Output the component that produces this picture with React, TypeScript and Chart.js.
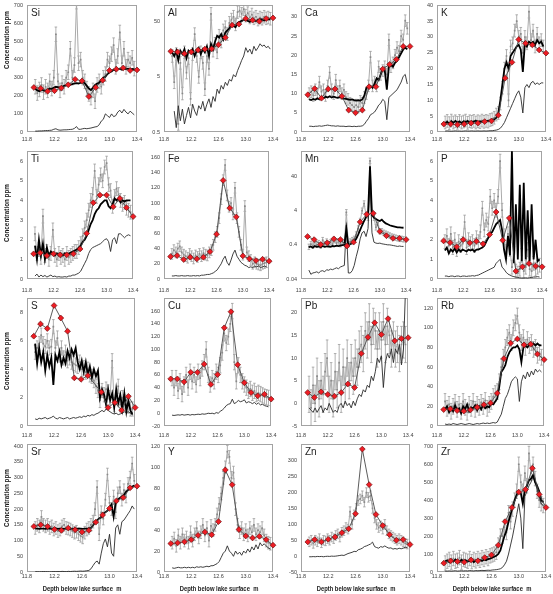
import React, { useEffect, useRef } from "react";
import { Chart, registerables } from "chart.js";

Chart.register(...registerables);

// ---------- shared depth axis ----------
const depth = [11.92, 11.95, 11.98, 12.01, 12.04, 12.07, 12.10, 12.13, 12.16, 12.19,
  12.22, 12.25, 12.28, 12.31, 12.34, 12.37, 12.40, 12.43, 12.46, 12.49,
  12.52, 12.55, 12.58, 12.61, 12.64, 12.67, 12.70, 12.73, 12.76, 12.79,
  12.82, 12.85, 12.88, 12.91, 12.94, 12.97, 13.00, 13.03, 13.06, 13.09,
  13.12, 13.15, 13.18, 13.21, 13.24, 13.27, 13.30, 13.33, 13.36];
const redDepth = [11.9, 12.0, 12.1, 12.2, 12.3, 12.4, 12.5, 12.6, 12.7, 12.8, 12.9, 13.0, 13.1, 13.2, 13.3, 13.4];
const xTicks = [11.8, 12.2, 12.6, 13.0, 13.4];

// ---------- Si ----------
const siGray = [250, 215, 235, 260, 220, 250, 230, 280, 240, 300, 540, 280, 230, 270, 250, 300, 330, 460, 300, 370, 720, 380, 400, 300, 280, 240, 210, 190, 230, 170, 260, 280, 250, 300, 320, 400, 380, 430, 480, 360, 420, 550, 380, 460, 360, 400, 380, 410, 350];
const siBlack = [240, 230, 225, 235, 230, 228, 232, 240, 238, 245, 250, 248, 245, 250, 255, 258, 262, 262, 265, 268, 270, 268, 272, 275, 270, 255, 240, 232, 245, 260, 268, 272, 285, 300, 305, 320, 330, 335, 345, 340, 348, 350, 345, 352, 348, 350, 345, 348, 346];
const siThin = [5, 5, 6, 6, 7, 8, 8, 9, 10, 15, 18, 12, 10, 11, 12, 12, 13, 14, 15, 20, 30, 15, 15, 18, 20, 18, 20, 22, 25, 28, 30, 40, 60, 70, 100, 90, 80, 100, 85, 90, 110, 120, 105, 125, 110, 100, 115, 105, 95];
const siRed = [246, 241, 225, 228, 243, 261, 291, 282, 196, 246, 286, 340, 347, 354, 340, 343];
const siTicks = [0, 100, 200, 300, 400, 500, 600, 700];

// ---------- Al ----------
const alGray = [12, 4, 13, 0.7, 9, 2.5, 14, 6, 11, 2, 13, 30, 12, 5, 14, 9, 3, 12, 7, 70, 15, 20, 14, 28, 22, 35, 40, 30, 48, 55, 62, 45, 75, 80, 70, 85, 65, 72, 60, 68, 58, 62, 55, 60, 57, 62, 58, 60, 57];
const alBlack = [14, 12, 15, 10, 15, 13, 16, 11, 15, 14, 16, 12, 15, 17, 13, 16, 14, 18, 12, 20, 16, 22, 28, 26, 30, 24, 32, 35, 38, 45, 42, 40, 48, 50, 52, 54, 55, 52, 50, 55, 53, 52, 54, 56, 55, 53, 55, 56, 55];
const alThin = [null, 1.2, 0.6, 1.5, 0.8, 1.3, 0.7, 1.0, 1.4, 0.9, 1.6, 1.2, 1.0, 1.5, 1.3, 1.8, 1.2, 1.6, 2.0, 1.4, 2.2, 1.8, 3.0, 2.5, 3.5, 3.0, 4.0, 3.5, 4.5, 4.2, 5.5, 5.0, 6.5, 8, 10, 12, 17, 14, 16, 13, 18, 15, 17, 20, 18, 19, 17, 18, 16];
const alRed = [14.6, 14.2, 13.2, 14.2, 15.4, 16.0, 16.2, 19.2, 25.9, 43.6, 45.4, 57.4, 53.6, 51.3, 57.4, 59];
const alTicks = [0.5, 5, 50];

// ---------- Ca ----------
const caGray = [10, 10.5, 9.5, 11, 10, 13, 10.5, 11, 9.5, 12, 15.5, 11, 10, 13.5, 10.5, 12, 10, 11, 9, 8.5, 7.5, 7, 6.5, 7, 6.5, 8, 7.5, 9, 10, 12, 19.5, 12, 13, 12, 17, 15, 16, 17, 15, 24, 17, 18, 20, 22, 21, 25, 24, 29, 27];
const caBlack = [8.5, 8.3, 8.6, 8.4, 8.8, 8.5, 9, 8.8, 9.2, 9, 9.3, 9, 9.2, 9, 8.9, 9.1, 8.8, 8.7, 8.6, 8.5, 8.4, 8.5, 8.3, 8.2, 8.3, 8.2, 8.5, 9.5, 11.5, 11.8, 12, 11.5, 12.5, 14, 13.5, 15, 16.5, 16, 11, 17, 17.5, 17, 18, 18.5, 19.5, 20.5, 21.5, 22, 21.5];
const caThin = [1.5, 1.5, 1.4, 1.5, 1.5, 1.6, 1.5, 1.6, 1.7, 1.8, 1.7, 1.6, 1.6, 1.5, 1.6, 1.5, 1.5, 1.5, 1.4, 1.5, 1.5, 1.4, 1.5, 1.4, 1.5, 1.5, 1.6, 2.0, 2.8, 3.5, 4.5, 4.8, 5.2, 6, 7, 7.5, 8.5, 8, 3.2, 9, 9.5, 10, 10.5, 11, 12, 13, 14.5, 15, 12.5];
const caRed = [9.7, 11.3, 8.8, 11.2, 11.2, 9.3, 5.7, 5.0, 5.7, 11.8, 11.8, 16.4, 17.6, 18.9, 22.3, 22.3];
const caTicks = [0, 5, 10, 15, 20, 25, 30];

// ---------- K ----------
const kGray = [3, 3.5, 2.8, 3.6, 3, 3.4, 2.9, 3.5, 3, 3.3, 3.6, 2.9, 3.4, 3.2, 3.5, 3, 3.4, 3.1, 3.6, 3.2, 3.5, 3.3, 3.8, 4, 4.5, 5.5, 6, 9, 14, 20, 24, 10, 27, 28, 32, 35, 30, 31, 25, 30, 28, 38, 29, 32, 27, 31, 28, 29, 27];
const kBlack = [2.8, 3.2, 2.6, 3.4, 2.9, 3.5, 3, 3.3, 2.8, 3.4, 3.1, 3.5, 2.9, 3.3, 3.2, 3.6, 3, 3.4, 3.2, 3.5, 3.3, 3.6, 3.5, 3.8, 4, 4.5, 6, 10, 15, 20, 22, 20, 24, 25, 26, 27, 27.5, 26, 19, 28, 27, 28.5, 28, 28.5, 27.5, 29, 28, 28.5, 27];
const kThin = [0.3, 0.35, 0.3, 0.25, 0.3, 0.35, 0.3, 0.3, 0.25, 0.3, 0.35, 0.3, 0.3, 0.35, 0.3, 0.3, 0.35, 0.3, 0.3, 0.35, 0.3, 0.35, 0.4, 0.4, 0.5, 0.6, 0.8, 1.2, 2, 3, 4.5, 6, 7.5, 9, 10.5, 12, 13, 11, 6, 14, 15, 14, 15.5, 16, 15, 15.5, 15, 15.5, 15.5];
const kRed = [2.5, 2.5, 2.3, 2.5, 2.8, 2.8, 3.3, 3.5, 5.3, 17.0, 22.0, 29.2, 28.0, 27.5, 25.9, 24.9];
const kTicks = [0, 5, 10, 15, 20, 25, 30, 35, 40];

// ---------- Ti ----------
const tiGray = [2.3, 1.3, 1.5, 1.1, 3.2, 1.2, 1.4, 1.0, 1.3, 2.5, 1.2, 1.0, 1.3, 1.1, 1.2, 1.0, 1.3, 1.1, 1.2, 1.3, 1.4, 1.4, 1.6, 1.8, 2.2, 2.6, 3.0, 3.5, 4.0, 4.3, 5.5, 4.2, 4.8, 5.3, 5.0, 5.7, 5.9, 4.8, 4.5, 3.7, 4.2, 4.6, 4.3, 4.0, 3.8, 3.9, 3.6, 3.5, 3.4];
const tiBlack = [1.7, 1.0, 2.0, 1.2, 1.8, 1.0, 1.6, 1.2, 1.4, 1.3, 1.2, 1.3, 1.2, 1.3, 1.2, 1.3, 1.25, 1.3, 1.35, 1.4, 1.45, 1.5, 1.6, 1.7, 1.9, 2.0, 2.2, 2.5, 2.8, 3.0, 3.3, 3.5, 3.6, 3.8, 3.9, 4.0, 4.0, 3.7, 3.6, 3.8, 4.1, 4.0, 4.1, 3.9, 4.0, 3.95, 4.0, 4.0, 4.0];
const tiThin = [0.15, 0.25, 0.1, 0.2, 0.12, 0.18, 0.1, 0.15, 0.2, 0.12, 0.15, 0.1, 0.12, 0.1, 0.1, 0.12, 0.1, 0.15, 0.15, 0.2, 0.2, 0.25, 0.3, 0.4, 0.6, 0.8, 1.0, 1.3, 1.5, 1.6, 1.65, 1.7, 1.75, 1.8, 1.9, 2.0, 2.05, 1.9, 1.4, 2.0, 2.1, 1.8, 2.3, 2.3, 2.2, 2.1, 2.2, 2.25, 2.2];
const tiRed = [1.28, 1.33, 1.19, 1.28, 1.23, 1.23, 1.28, 1.53, 2.32, 3.88, 4.27, 4.27, 3.68, 4.1, 3.63, 3.18];
const tiTicks = [0, 1, 2, 3, 4, 5, 6];

// ---------- Fe ----------
const feGray = [33, 38, 35, 40, 43, 35, 32, 30, 28, 33, 30, 27, 31, 29, 33, 30, 34, 32, 31, 35, 38, 45, 55, 62, 80, 105, 130, 150, 110, 95, 100, 85, 120, 80, 62, 45, 32, 96, 35, 30, 25, 20, 22, 20, 19, 18, 20, 21, 22];
const feThin = [4, 4, 4.5, 4, 4, 4.5, 4, 4, 4.5, 4, 4, 4.5, 4, 4.5, 4, 5, 5, 5.5, 6, 6, 7, 8, 10, 12, 16, 20, 26, 30, 22, 18, 25, 33, 38, 30, 26, 22, 20, 18, 17, 15, 16, 15, 17, 16, 17, 15, 16, 17, 16];
const feRed = [29.5, 30.8, 25.6, 28.6, 26.5, 28.6, 36, 59, 129.7, 93.3, 81.6, 30.4, 26.5, 24.3, 26, 23.4];
const feTicks = [0, 20, 40, 60, 80, 100, 120, 140, 160];

// ---------- Mn ----------
const mnGray = [0.35, 0.42, 0.38, 0.5, 0.4, 0.45, 0.38, 0.55, 0.42, 0.5, 0.4, 0.48, 0.42, 0.55, 0.45, 0.5, 0.42, 0.48, 0.45, 3.6, 0.42, 0.5, 0.55, 0.6, 0.8, 1.2, 2.0, 4.0, 6.5, 3.0, 2.5, 116, 3.5, 2.5, 1.3, 1.8, 1.0, 1.0, 0.9, 0.85, 0.8, 0.75, 0.7, 0.68, 0.65, 0.62, 0.6, 0.6, 0.58];
const mnBlack = [0.34, 0.36, 0.33, 0.37, 0.35, 0.36, 0.34, 0.37, 0.35, 0.36, 0.36, 0.35, 0.37, 0.36, 0.38, 0.37, 0.38, 0.39, 0.4, 1.2, 0.38, 0.42, 0.45, 0.5, 0.6, 0.8, 1.1, 1.5, 2.0, 2.6, 3.2, 80, 3.0, 2.5, 2.3, 2.1, 2.0, 2.2, 1.9, 1.7, 1.6, 1.5, 1.45, 1.4, 1.35, 1.3, 1.3, 1.28, 1.27];
const mnThin = [0.073, 0.055, 0.06, 0.062, 0.065, 0.06, 0.068, 0.07, 0.065, 0.075, 0.072, 0.078, 0.075, 0.08, 0.085, 0.08, 0.09, 0.095, 0.1, 1.5, 0.06, 0.06, 0.07, 0.1, 0.18, 0.3, 0.6, 0.9, 1.0, 0.7, 1.2, 30, 0.9, 0.48, 0.45, 0.44, 0.45, 0.43, 0.42, 0.41, 0.4, 0.4, 0.39, 0.38, 0.37, 0.36, 0.37, 0.36, 0.36];
const mnRed = [0.70, 0.57, 0.41, 0.46, 0.60, 0.57, 0.37, 0.48, 1.88, 3.13, 3.35, 0.99, 0.74, 0.62, 0.62, 0.57];
const mnTicks = [0.04, 0.4, 4, 40];

// ---------- P ----------
const pGray = [1.9, 2.2, 1.7, 2.3, 1.6, 2.0, 1.5, 1.9, 1.7, 1.8, 2.9, 1.6, 2.0, 1.8, 1.9, 1.7, 2.1, 1.9, 2.4, 3.6, 2.5, 3.0, 2.8, 4.2, 3.6, 4.0, 3.5, 4.2, 6.0, 3.5, 2.2, 1.4, 2.3, 1.5, 0.6, 1.3, 0.4, 0.3, 0.5, 1.2, 0.4, 0.6, 1.5, 0.5, 0.4, 0.8, 0.5, 0.6, 0.7];
const pBlack = [1.45, 1.6, 1.3, 1.5, 1.4, 1.55, 1.35, 1.5, 1.4, 1.5, 1.45, 1.4, 1.5, 1.45, 1.5, 1.4, 1.5, 1.5, 1.55, 1.6, 1.7, 1.9, 2.1, 2.3, 2.4, 2.6, 2.8, 2.9, 3.0, 2.5, 1.5, 1.0, 2.2, 1.2, 6.6, 0.8, 3.8, 1.0, 4.8, 0.9, 4.9, 1.0, 3.5, 0.9, 3.8, 1.0, 2.0, 0.9, 1.0];
const pThin = [0.15, 0.15, 0.12, 0.15, 0.15, 0.12, 0.15, 0.15, 0.12, 0.15, 0.15, 0.13, 0.15, 0.15, 0.17, 0.15, 0.18, 0.2, 0.25, 0.3, 0.35, 0.4, 0.45, 0.5, 0.55, 0.6, 0.8, 0.9, 1.0, 0.6, 0.5, 0.35, 0.25, 0.2, 0.15, 0.12, 0.1, 0.08, 0.06, 0.05, 0.05, 0.06, 0.05, 0.07, 0.08, 0.1, 0.1, 0.12, 0.1];
const pRed = [1.94, 1.85, 1.64, 2.0, 1.84, 1.92, 1.79, 2.26, 3.41, 1.97, 3.1, 0.40, 0.62, 0.79, 0.66, 0.62];
const pTicks = [0, 1, 2, 3, 4, 5, 6];

// ---------- S ----------
const sGray = [5.2, 5.5, 5.8, 6.4, 5.8, 5.6, 6.0, 5.5, 5.6, 7.0, 5.5, 6.2, 5.0, 5.5, 4.8, 5.2, 4.6, 4.8, 4.5, 4.4, 4.3, 4.2, 4.5, 4.0, 4.1, 3.8, 4.0, 3.6, 3.5, 3.2, 2.8, 2.5, 1.8, 2.5, 2.2, 2.6, 2.4, 2.0, 4.6, 1.5, 2.0, 2.8, 1.5, 2.0, 1.7, 1.5, 1.4, 1.2, 1.2];
const sBlack = [5.8, 4.4, 5.5, 4.5, 5.2, 3.9, 5.0, 4.2, 4.8, 2.9, 5.0, 4.6, 5.2, 4.3, 4.8, 4.4, 5.3, 4.8, 5.4, 5.0, 5.5, 4.5, 4.0, 4.6, 3.8, 4.5, 3.6, 4.2, 3.4, 4.0, 3.5, 3.9, 2.0, 2.6, 2.2, 1.5, 2.6, 1.8, 2.3, 1.3, 2.6, 1.6, 2.2, 1.2, 2.3, 1.0, 1.8, 1.1, 0.8];
const sThin = [0.5, 0.45, 0.55, 0.5, 0.55, 0.6, 0.5, 0.55, 0.6, 0.7, 0.55, 0.5, 0.6, 0.55, 0.5, 0.55, 0.6, 0.5, 0.55, 0.6, 0.55, 0.6, 0.65, 0.6, 0.7, 0.65, 0.75, 0.7, 0.8, 0.75, 0.85, 0.9, 1.0, 1.1, 1.0, 1.2, 1.1, 1.0, 0.9, 0.85, 0.9, 0.8, 0.85, 0.9, 1.0, 0.95, 1.0, 0.9, 0.95];
const sRed = [6.33, 7.19, 6.87, 8.49, 7.61, 6.68, 3.39, 3.29, 3.55, null, 2.39, 1.30, 1.65, 1.11, 2.09, 1.30];
const sTicks = [0, 2, 4, 6, 8];

// ---------- Cu ----------
const cuGray = [55, 40, 55, 35, 50, 30, 45, 60, 40, 65, 50, 60, 45, 65, 55, 70, 80, 100, 60, 45, 55, 50, 65, 60, 75, 95, 125, 110, 120, 140, 160, 80, 50, 75, 60, 50, 45, 40, 35, 38, 32, 35, 30, 32, 30, 28, 26, 25, 24];
const cuThin = [-3, -3.5, -3, -2.5, -3, -2, -3, -2.5, -2, -3, -2, -2.5, -2, -1.5, -2, -1, -1.5, -1, 0, -0.5, 0, -1, 1, 0, 3, 5, 8, 12, 14, 15, 22, 15, 17, 20, 18, 19, 21, 16, 18, 17, 15, 17, 14, 16, 13, 14, 12, 11, 10];
const cuRed = [53.8, 53.8, 49.2, 64.1, 64.1, 76.9, 45.1, 60.5, 133.8, 159, 75.9, 47.7, 32.3, 27.2, 29.7, 22.1];
const cuTicks = [-20, 0, 20, 40, 60, 80, 100, 120, 140, 160];

// ---------- Pb ----------
const pbGray = [2, -1, 4, 0, 6, 1, 5, 2, 7, 10, 2, 5, 1, 7, 3, 9, 2, 8, 4, 10, 5, 9, 6, 10, 8, 12, 13, 11, 16, 14, 18, 13, 17, 16, 12, 16, 14, 18, 13, 17, 15, 12, 14, 12, 13, 11, 13, 14, 13];
const pbThin = [-1, -1.5, -2, -1, -2, -1.2, -0.5, -2, -1, -1.5, 0, -1, -2, -1.5, -2, -0.5, 0, -1, 0.5, -0.5, 0, -1, 0.5, -0.5, 1, 2, 1.5, 3, 2.5, 4, 3.5, 6, 5, 7, 10, 9, 10.5, 3.5, 9, 11, 10, 12, 9, 12, 11, 13, 8.5, 12, 25];
const pbRed = [2.39, 1.30, 2.54, 1.96, 1.59, 2.39, 4.28, 3.48, 11.0, 14.6, 17.8, 15.2, 18.7, 13.8, 14.3, 14.5];
const pbTicks = [-5, 0, 5, 10, 15, 20];

// ---------- Rb ----------
const rbGray = [25, 18, 22, 15, 20, 24, 17, 22, 15, 25, 19, 14, 22, 18, 25, 17, 22, 19, 24, 20, 26, 18, 22, 25, 30, 33, 35, 45, 60, 70, 80, 90, 95, 85, 100, 105, 112, 95, 85, 90, 80, 88, 82, 85, 78, 80, 72, 75, 70];
const rbBlack = [17, 20, 14, 19, 15, 21, 16, 18, 13, 20, 17, 22, 15, 19, 18, 21, 16, 20, 17, 22, 18, 20, 19, 23, 22, 25, 28, 40, 55, 58, 62, 70, 75, 78, 80, 80, 82, 78, 65, 80, 82, 80, 83, 82, 84, 82, 84, 82, 82];
const rbThin = [2, 1.5, 2, 1.5, 2.5, 2, 1.5, 2, 2.5, 2, 1.5, 2, 2.5, 2, 1.5, 2, 2.5, 2, 2.5, 3, 2.5, 3, 2.5, 3, 3.5, 3, 4, 8, 12, 20, 28, 32, 38, 45, 48, 50, 48, 25, 45, 52, 48, 55, 50, 56, 52, 58, 55, 57, 55];
const rbRed = [16.7, 17.4, 15.7, 15.1, 16.4, 19.1, 21.7, 23.4, 33.4, 68.6, 84.3, 88.6, 82.6, 83.3, 73.2, 67.6];
const rbTicks = [0, 20, 40, 60, 80, 100, 120];

// ---------- Sr ----------
const srGray = [140, 150, 145, 175, 150, 145, 150, 140, 145, 135, 140, 130, 135, 145, 150, 140, 138, 135, 130, 125, 128, 120, 115, 110, 125, 135, 140, 150, 160, 200, 270, 120, 190, 170, 230, 310, 220, 200, 240, 190, 250, 270, 230, 260, 240, 280, 300, 345, 290];
const srBlack = [138, 138, 137, 138, 138, 137, 138, 138, 137, 138, 138, 137, 138, 138, 137, 138, 138, 137, 138, 138, 137, 138, 138, 137, 138, 138, 138, 140, 148, 158, 165, 170, 175, 185, 190, 195, 205, 215, 175, 220, 230, 235, 240, 245, 255, 260, 268, 272, 275];
const srThin = [1, 1, 0.5, 1, 1.5, 1, 1, 0.5, 1, 1.5, 1, 1.5, 1, 2, 1.5, 1, 2, 1.5, 2, 2.5, 2, 2.5, 3, 2.5, 3, 4, 5, 10, 20, 30, 35, 25, 60, 90, 105, 80, 120, 60, 50, 140, 150, 120, 160, 165, 175, 185, 195, 210, 200];
const srRed = [144.8, 150, 144.8, 135.4, 132.3, 139.6, 134.4, 127.1, 132.3, 158.3, 181.3, 202, 226, 236.5, 267.7, 272.9];
const srTicks = [0, 50, 100, 150, 200, 250, 300, 350, 400];

// ---------- Y ----------
const yGray = [28, 32, 25, 35, 28, 36, 30, 33, 28, 38, 30, 36, 42, 33, 38, 45, 35, 42, 30, 44, 40, 45, 55, 65, 75, 90, 100, 115, 110, 90, 95, 60, 45, 38, 42, 36, 40, 35, 42, 38, 45, 36, 40, 38, 42, 35, 30, 28, 27];
const yThin = [4, 3.5, 4, 4.5, 4, 4, 4.5, 4, 4.5, 4, 4.5, 4, 5, 4.5, 5, 4.5, 5, 5.5, 5, 6, 6, 7, 8, 10, 14, 18, 20, 25, 20, 18, 15, 20, 17, 19, 16, 20, 18, 22, 19, 24, 21, 26, 22, 28, 25, 27, 25, 23, 22];
const yRed = [27.2, 27.8, 28.8, 30.9, 35, 38.1, 35.6, 48.1, 97.5, 83.4, 40.6, 34.4, 32.5, 34.1, 30.9, 25.6];
const yTicks = [0, 20, 40, 60, 80, 100, 120];

// ---------- Zn ----------
const znGray = [45, 50, 40, 50, 45, 55, 42, 50, 48, 55, 50, 60, 55, 65, 70, 60, 75, 80, 90, 85, 140, 100, 130, 150, 175, 180, 190, 170, 200, 185, 190, 150, 120, 100, 90, 95, 85, 100, 80, 70, 65, 60, 55, 50, 55, 50, 45, 40, 38];
const znThin = [-2, -2, -1.5, -2, -1, -1.5, -1, -2, -1, -0.5, -1, 0, -0.5, 0, 1, 2, 3, 2, 5, 8, 10, 12, 15, 14, 20, 22, 25, 30, 32, 35, 38, 44, 30, 27, 25, 30, 28, 32, 28, 25, 26, 22, 24, 22, 25, 23, 25, 28, 27];
const znRed = [44.7, 52, 44.7, 53, 60.2, 73.6, 86, 133.3, 337, 225, 131, 96.2, 67.4, 49.9, 52, 36.5];
const znTicks = [-50, 0, 50, 100, 150, 200, 250, 300];

// ---------- Zr ----------
const zrGray = [50, 60, 70, 55, 75, 60, 65, 80, 55, 70, 65, 60, 75, 58, 70, 62, 75, 65, 80, 70, 85, 75, 90, 95, 100, 110, 150, 200, 200, 250, 220, 330, 280, 350, 400, 450, 600, 500, 450, 550, 480, 660, 550, 600, 520, 450, 400, 380, 370];
const zrBlack = [60, 65, 55, 68, 58, 70, 62, 55, 68, 60, 65, 58, 62, 70, 55, 65, 60, 68, 62, 70, 65, 72, 75, 80, 85, 90, 100, 120, 160, 200, 230, 280, 320, 360, 400, 430, 450, 440, 380, 460, 480, 510, 520, 540, 500, 480, 450, 400, 390];
const zrThin = [5, 5, 6, 5, 6, 7, 5, 6, 7, 6, 7, 6, 8, 7, 6, 8, 7, 8, 9, 8, 9, 10, 9, 11, 12, 13, 15, 18, 25, 40, 60, 100, 150, 200, 260, 320, 380, 300, 130, 420, 450, 480, 500, 530, 500, 460, 420, 380, 370];
const zrRed = [49.2, 62, 58.3, 54.7, 67.4, 62, 80.2, 94.8, 149.5, 280.7, 359, 444.8, 459.4, 577.8, 432, 359];
const zrTicks = [0, 100, 200, 300, 400, 500, 600, 700];

type Panel = {
  name: string;
  gray: (number | null)[];
  black: (number | null)[] | null;
  thin: (number | null)[];
  red: (number | null)[];
  min: number;
  max: number;
  ticks: number[];
  log?: boolean;
  err: number;
};

const panels: Panel[] = [
  { name: "Si", gray: siGray, black: siBlack, thin: siThin, red: siRed, min: 0, max: 700, ticks: siTicks, err: 40 },
  { name: "Al", gray: alGray, black: alBlack, thin: alThin, red: alRed, min: 0.5, max: 100, ticks: alTicks, log: true, err: 0.3 },
  { name: "Ca", gray: caGray, black: caBlack, thin: caThin, red: caRed, min: 0, max: 33, ticks: caTicks, err: 1.5 },
  { name: "K", gray: kGray, black: kBlack, thin: kThin, red: kRed, min: 0, max: 40, ticks: kTicks, err: 2 },
  { name: "Ti", gray: tiGray, black: tiBlack, thin: tiThin, red: tiRed, min: 0, max: 6.5, ticks: tiTicks, err: 0.35 },
  { name: "Fe", gray: feGray, black: null, thin: feThin, red: feRed, min: 0, max: 168, ticks: feTicks, err: 7 },
  { name: "Mn", gray: mnGray, black: mnBlack, thin: mnThin, red: mnRed, min: 0.04, max: 220, ticks: mnTicks, log: true, err: 0.2 },
  { name: "P", gray: pGray, black: pBlack, thin: pThin, red: pRed, min: 0, max: 6.5, ticks: pTicks, err: 0.35 },
  { name: "S", gray: sGray, black: sBlack, thin: sThin, red: sRed, min: 0, max: 9, ticks: sTicks, err: 0.5 },
  { name: "Cu", gray: cuGray, black: null, thin: cuThin, red: cuRed, min: -20, max: 180, ticks: cuTicks, err: 12 },
  { name: "Pb", gray: pbGray, black: null, thin: pbThin, red: pbRed, min: -5, max: 23.2, ticks: pbTicks, err: 4 },
  { name: "Rb", gray: rbGray, black: rbBlack, thin: rbThin, red: rbRed, min: 0, max: 130, ticks: rbTicks, err: 8 },
  { name: "Sr", gray: srGray, black: srBlack, thin: srThin, red: srRed, min: 0, max: 406, ticks: srTicks, err: 20 },
  { name: "Y", gray: yGray, black: null, thin: yThin, red: yRed, min: 0, max: 122, ticks: yTicks, err: 6 },
  { name: "Zn", gray: znGray, black: null, thin: znThin, red: znRed, min: -50, max: 352, ticks: znTicks, err: 15 },
  { name: "Zr", gray: zrGray, black: zrBlack, thin: zrThin, red: zrRed, min: 0, max: 711, ticks: zrTicks, err: 40 },
];

// ---------- layout ----------
const COL_LEFT = [27, 164, 301, 437];
const COL_W = [110, 109, 109, 109];
const ROW_TOP = [3, 149, 296, 442];
const ROW_H = [129, 130, 130, 130];
const XPAD = [4.5, 8.5, 6.5, 1.5];
const YTITLE_Y = [40, 213, 361, 498];
const YW = 26;
const XH = 18;
const PAD_T = 5;
const PAD_R = 10;
const FONT = "'Liberation Sans', Arial, sans-serif";

const pts = (xs: number[], ys: (number | null)[]) => xs.map((x, i) => ({ x, y: ys[i] }));

function PanelChart({ p, idx }: { p: Panel; idx: number }) {
  const ref = useRef<HTMLCanvasElement>(null);
  const col = idx % 4;
  const row = Math.floor(idx / 4);
  const left = COL_LEFT[col] - YW;
  const top = ROW_TOP[row] - PAD_T;
  const w = YW + COL_W[col] + PAD_R;
  const h = PAD_T + ROW_H[row] + XH;

  useEffect(() => {
    const frame = {
      id: "frame" + idx,
      beforeDatasetsDraw(chart: any) {
        const { ctx, chartArea: a, scales } = chart;
        ctx.save();
        ctx.strokeStyle = "#a3a3a3";
        ctx.lineWidth = 1;
        ctx.strokeRect(Math.round(a.left) + 0.5, Math.round(a.top) + 0.5, Math.round(a.right - a.left) - 1, Math.round(a.bottom - a.top) - 1);
        ctx.beginPath();
        ctx.rect(a.left, a.top, a.right - a.left, a.bottom - a.top);
        ctx.clip();
        ctx.strokeStyle = "#9d9d9d";
        ctx.lineWidth = 0.8;
        const xs = scales.x;
        const ys = scales.y;
        ctx.beginPath();
        p.gray.forEach((v, i) => {
          if (v == null) return;
          const lo = p.log ? v / (1 + p.err) : v - p.err;
          const hi = p.log ? v * (1 + p.err) : v + p.err;
          const x = xs.getPixelForValue(depth[i]);
          const y1 = ys.getPixelForValue(lo);
          const y2 = ys.getPixelForValue(hi);
          ctx.moveTo(x, y1);
          ctx.lineTo(x, y2);
          ctx.moveTo(x - 1.3, y1);
          ctx.lineTo(x + 1.3, y1);
          ctx.moveTo(x - 1.3, y2);
          ctx.lineTo(x + 1.3, y2);
        });
        ctx.stroke();
        ctx.restore();
      },
      afterDatasetsDraw(chart: any) {
        const { ctx, chartArea: a } = chart;
        ctx.save();
        ctx.fillStyle = "#1e1e1e";
        ctx.font = "10px " + FONT;
        ctx.textBaseline = "top";
        ctx.textAlign = "left";
        ctx.fillText(p.name, a.left + 4, a.top + 3);
        ctx.restore();
      },
    };

    const datasets: any[] = [
      {
        data: pts(redDepth, p.red),
        borderColor: "#4a4a4a",
        borderWidth: 0.9,
        pointStyle: "rectRot",
        pointRadius: 2.9,
        pointBackgroundColor: "#ee1c24",
        pointBorderColor: "#701010",
        pointBorderWidth: 0.7,
        spanGaps: true,
        clip: false,
      },
    ];
    if (p.black) {
      datasets.push({ data: pts(depth, p.black), borderColor: "#000000", borderWidth: 1.8, pointRadius: 0 });
    }
    datasets.push({ data: pts(depth, p.thin), borderColor: "#2a2a2a", borderWidth: 0.9, pointRadius: 0 });
    datasets.push({
      data: pts(depth, p.gray),
      borderColor: "#aaaaaa",
      borderWidth: 1,
      pointStyle: "rect",
      pointRadius: 1.2,
      pointBackgroundColor: "#8a8a8a",
      pointBorderWidth: 0,
    });

    const tickFont = { family: FONT, size: 5.5 };
    const chart = new Chart(ref.current as HTMLCanvasElement, {
      type: "line",
      data: { datasets },
      options: {
        animation: false,
        responsive: false,
        events: [],
        layout: { padding: { left: 0, top: PAD_T, right: PAD_R, bottom: 0 } },
        elements: { line: { tension: 0 } },
        plugins: { legend: { display: false }, tooltip: { enabled: false }, title: { display: false } },
        scales: {
          x: {
            type: "linear",
            min: 11.8,
            max: 13.4,
            bounds: "data",
            grid: { display: false, drawTicks: false },
            border: { display: false },
            ticks: {
              font: tickFont,
              color: "#404040",
              padding: XPAD[row],
              autoSkip: false,
              maxRotation: 0,
              minRotation: 0,
              callback: (v: any) => Number(v).toFixed(1),
            },
            afterBuildTicks: (s: any) => {
              s.ticks = xTicks.map((v) => ({ value: v }));
            },
            afterFit: (s: any) => {
              s.height = XH;
            },
          },
          y: {
            type: p.log ? "logarithmic" : "linear",
            min: p.min,
            max: p.max,
            bounds: "data",
            grid: { display: false, drawTicks: false },
            border: { display: false },
            ticks: {
              font: tickFont,
              color: "#404040",
              padding: 4,
              autoSkip: false,
              callback: (v: any) => String(parseFloat(Number(v).toPrecision(6))),
            },
            afterBuildTicks: (s: any) => {
              s.ticks = p.ticks.map((v) => ({ value: v }));
            },
            afterFit: (s: any) => {
              s.width = YW;
            },
          },
        },
      } as any,
      plugins: [frame],
    });
    return () => chart.destroy();
  }, []);

  return (
    <canvas
      ref={ref}
      width={w}
      height={h}
      style={{ position: "absolute", left, top, width: w, height: h }}
    />
  );
}

export default function App() {
  return (
    <div style={{ position: "absolute", left: 0, top: 0, width: 553, height: 594, background: "#ffffff", overflow: "hidden" }}>
      {panels.map((p, i) => (
        <PanelChart key={p.name} p={p} idx={i} />
      ))}
      {YTITLE_Y.map((cy, i) => (
        <div key={"yt" + i} style={{ position: "absolute", left: 5.5, top: cy, width: 0, height: 0 }}>
          <span
            style={{
              position: "absolute",
              left: 0,
              top: 0,
              whiteSpace: "nowrap",
              fontFamily: FONT,
              fontWeight: "bold",
              fontSize: "7.5px",
              lineHeight: "9px",
              color: "#1a1a1a",
              transform: "translate(-50%, -50%) rotate(-90deg) scaleX(0.84)",
            }}
          >
            Concentration ppm
          </span>
        </div>
      ))}
      {COL_LEFT.map((cl, i) => (
        <div key={"xt" + i} style={{ position: "absolute", left: cl + COL_W[i] / 2, top: 588, width: 0, height: 0 }}>
          <span
            style={{
              position: "absolute",
              left: 0,
              top: 0,
              whiteSpace: "pre",
              fontFamily: FONT,
              fontWeight: "bold",
              fontSize: "7.5px",
              lineHeight: "9px",
              color: "#1a1a1a",
              transform: "translate(-50%, -50%) scaleX(0.78)",
            }}
          >
            {"Depth below lake surface  m"}
          </span>
        </div>
      ))}
    </div>
  );
}
